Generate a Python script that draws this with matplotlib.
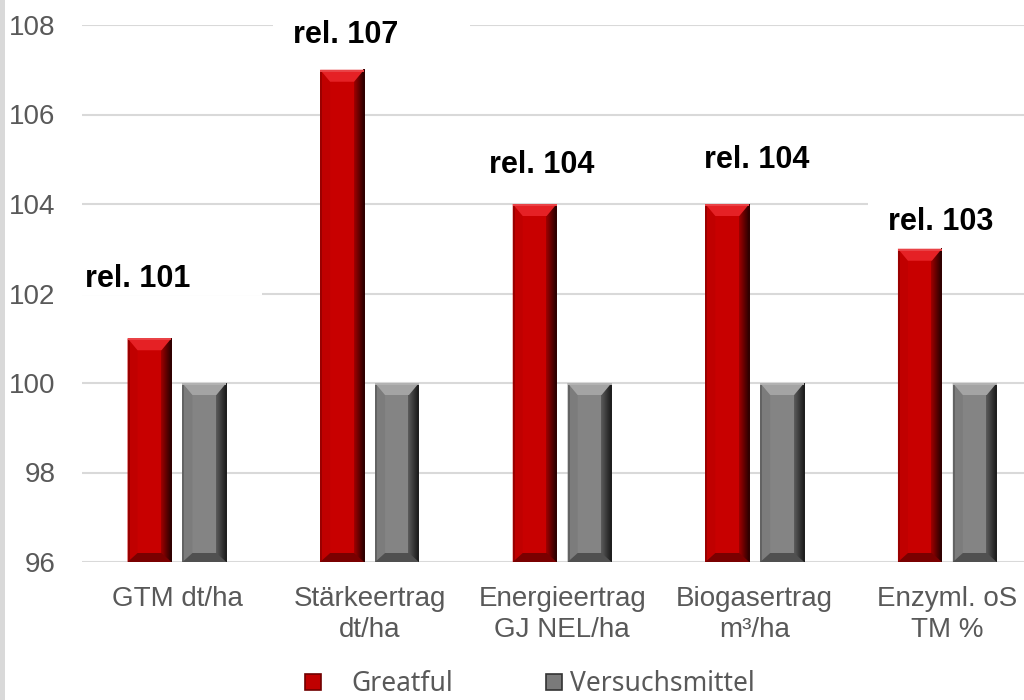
import numpy as np
import matplotlib
matplotlib.use('Agg')
import matplotlib.pyplot as plt
from matplotlib.patches import Polygon, Rectangle
from matplotlib.lines import Line2D
from matplotlib.transforms import IdentityTransform
from matplotlib.colors import to_rgb

plt.rcParams['font.family'] = ['Liberation Sans', 'DejaVu Sans']

# data
categories = ['GTM dt/ha', 'Stärkeertrag\ndt/ha', 'Energieertrag\nGJ NEL/ha',
              'Biogasertrag\nm³/ha', 'Enzyml. oS\nTM %']
greatful = [101, 107, 104, 104, 103]
versuchsmittel = [100, 100, 100, 100, 100]
rel_labels = ['rel. 101', 'rel. 107', 'rel. 104', 'rel. 104', 'rel. 103']
series_names = ['Greatful', 'Versuchsmittel']
yticks = [96, 98, 100, 102, 104, 106, 108]

# label placement (pixels, from top centre of the red bar to text left/baseline)
label_offsets = [(-65, 51), (-49, 27), (-46, 31), (-23, 36), (-32, 19)]

text_col = '#595959'
grid_col = '#d9d9d9'
y_min, y_max = 96, 108

fig = plt.figure(figsize=(10.24, 7), dpi=100)
fig.patches.append(Rectangle((0, 0), 5 / 1024, 1, transform=fig.transFigure,
                             facecolor='#d9d9d9', edgecolor='none'))
ax = fig.add_axes([82 / 1024, 138 / 700, 942 / 1024, 537 / 700])
ax.set_xlim(-0.493, 4.398)
ax.set_ylim(y_min, y_max)
ax.set_yticks(yticks)
ax.set_yticklabels([str(t) for t in yticks])
x = np.arange(len(categories))
ax.set_xticks(x)
ax.set_xticklabels(categories, linespacing=1.25)
ax.tick_params(axis='both', length=0, labelsize=20, labelcolor=text_col)
ax.tick_params(axis='y', pad=19)
ax.tick_params(axis='x', pad=17)
for s in ax.spines.values():
    s.set_visible(False)
ax.set_axisbelow(True)
ax.grid(axis='y', color=grid_col, linewidth=1.5, zorder=0)

width = 0.228
offset = 0.1425

# pixel size of bevel converted into data units
p0 = ax.transData.transform((0, y_min))
p1 = ax.transData.transform((1, y_min + 1))
px_x = p1[0] - p0[0]
px_y = p1[1] - p0[1]


def mix(c1, c2, t):
    a = np.array(to_rgb(c1))
    b = np.array(to_rgb(c2))
    return tuple(a + (b - a) * t)


def bevel_bar(xc, top, base, light, dark, right_a, right_b, left):
    x0, x1 = xc - width / 2, xc + width / 2
    y0, y1 = y_min, top
    bx = 10 / px_x
    by = 12 / px_y
    byb = 9 / px_y
    ax.add_patch(Rectangle((x0, y0), width, y1 - y0, facecolor=base,
                           edgecolor='none', zorder=2))
    # left edge
    ax.add_patch(Polygon([(x0, y1), (x0 + bx, y1 - by), (x0 + bx, y0 + byb), (x0, y0)],
                         closed=True, facecolor=left, edgecolor='none', zorder=3))
    ax.add_patch(Rectangle((x0, y0), 2 / px_x, y1 - y0, facecolor=mix(left, '#000000', 0.2),
                           edgecolor='none', zorder=3))
    # right edge gradient
    n = 10
    for i in range(n):
        t0, t1 = i / n, (i + 1) / n
        xa = x1 - bx + bx * t0
        xb = x1 - bx + bx * t1
        ya_top = y1 - by + by * t0
        yb_top = y1 - by + by * t1
        ya_bot = y0 + byb - byb * t0
        yb_bot = y0 + byb - byb * t1
        ax.add_patch(Polygon([(xa, ya_top), (xb, yb_top), (xb, yb_bot), (xa, ya_bot)],
                             closed=True, facecolor=mix(right_a, right_b, (t0 + t1) / 2),
                             edgecolor='none', zorder=3, antialiased=False))
    # top bevel
    ax.add_patch(Polygon([(x0, y1), (x1, y1), (x1 - bx, y1 - by), (x0 + bx, y1 - by)],
                         closed=True, facecolor=light, edgecolor='none', zorder=3))
    ax.add_patch(Rectangle((x0, y1 - 2 / px_y), width, 2 / px_y,
                           facecolor=mix(light, '#ffffff', 0.15), edgecolor='none', zorder=3))
    # bottom bevel
    ax.add_patch(Polygon([(x0, y0), (x1, y0), (x1 - bx, y0 + byb), (x0 + bx, y0 + byb)],
                         closed=True, facecolor=dark, edgecolor='none', zorder=3))


for i in range(len(categories)):
    bevel_bar(x[i] - offset, greatful[i], '#c80000', '#e52125', '#7a0000',
              '#a00000', '#2a0000', '#c00000')
    bevel_bar(x[i] + offset, versuchsmittel[i], '#848484', '#a4a4a4', '#505050',
              '#5c5c5c', '#1c1c1c', '#7c7c7c')

# value labels with white boxes
for i, lab in enumerate(rel_labels):
    px, py = ax.transData.transform((x[i] - offset, greatful[i]))
    dx, dy = label_offsets[i]
    ax.add_patch(Rectangle((px + dx - 20, py + dy - 8), 197, 38,
                           transform=IdentityTransform(), facecolor='white',
                           edgecolor='none', zorder=1, clip_on=False))
    ax.annotate(lab, xy=(x[i] - offset, greatful[i]), xytext=(dx, dy),
                textcoords='offset pixels', ha='left', va='baseline',
                fontsize=22, fontweight='bold', color='black', zorder=4,
                annotation_clip=False)

# legend
h_red = Line2D([], [], marker='s', linestyle='none', markersize=11,
               markerfacecolor='#c00000', markeredgecolor='#700000', markeredgewidth=1.2)
h_gray = Line2D([], [], marker='s', linestyle='none', markersize=11,
                markerfacecolor='#7a7a7a', markeredgecolor='#333333', markeredgewidth=1.2)
leg_font = {'family': 'Noto Sans', 'size': 19}
fig.legend([h_red], [series_names[0]], loc='center left', bbox_to_anchor=(300 / 1024, 16 / 700),
           frameon=False, prop=leg_font, labelcolor=text_col, handlelength=1.0,
           handletextpad=0.95, borderaxespad=0, borderpad=0)
fig.legend([h_gray], [series_names[1]], loc='center left', bbox_to_anchor=(541 / 1024, 16 / 700),
           frameon=False, prop=leg_font, labelcolor=text_col, handlelength=1.0,
           handletextpad=0.1, borderaxespad=0, borderpad=0)

fig.savefig('out.png', dpi=100)
